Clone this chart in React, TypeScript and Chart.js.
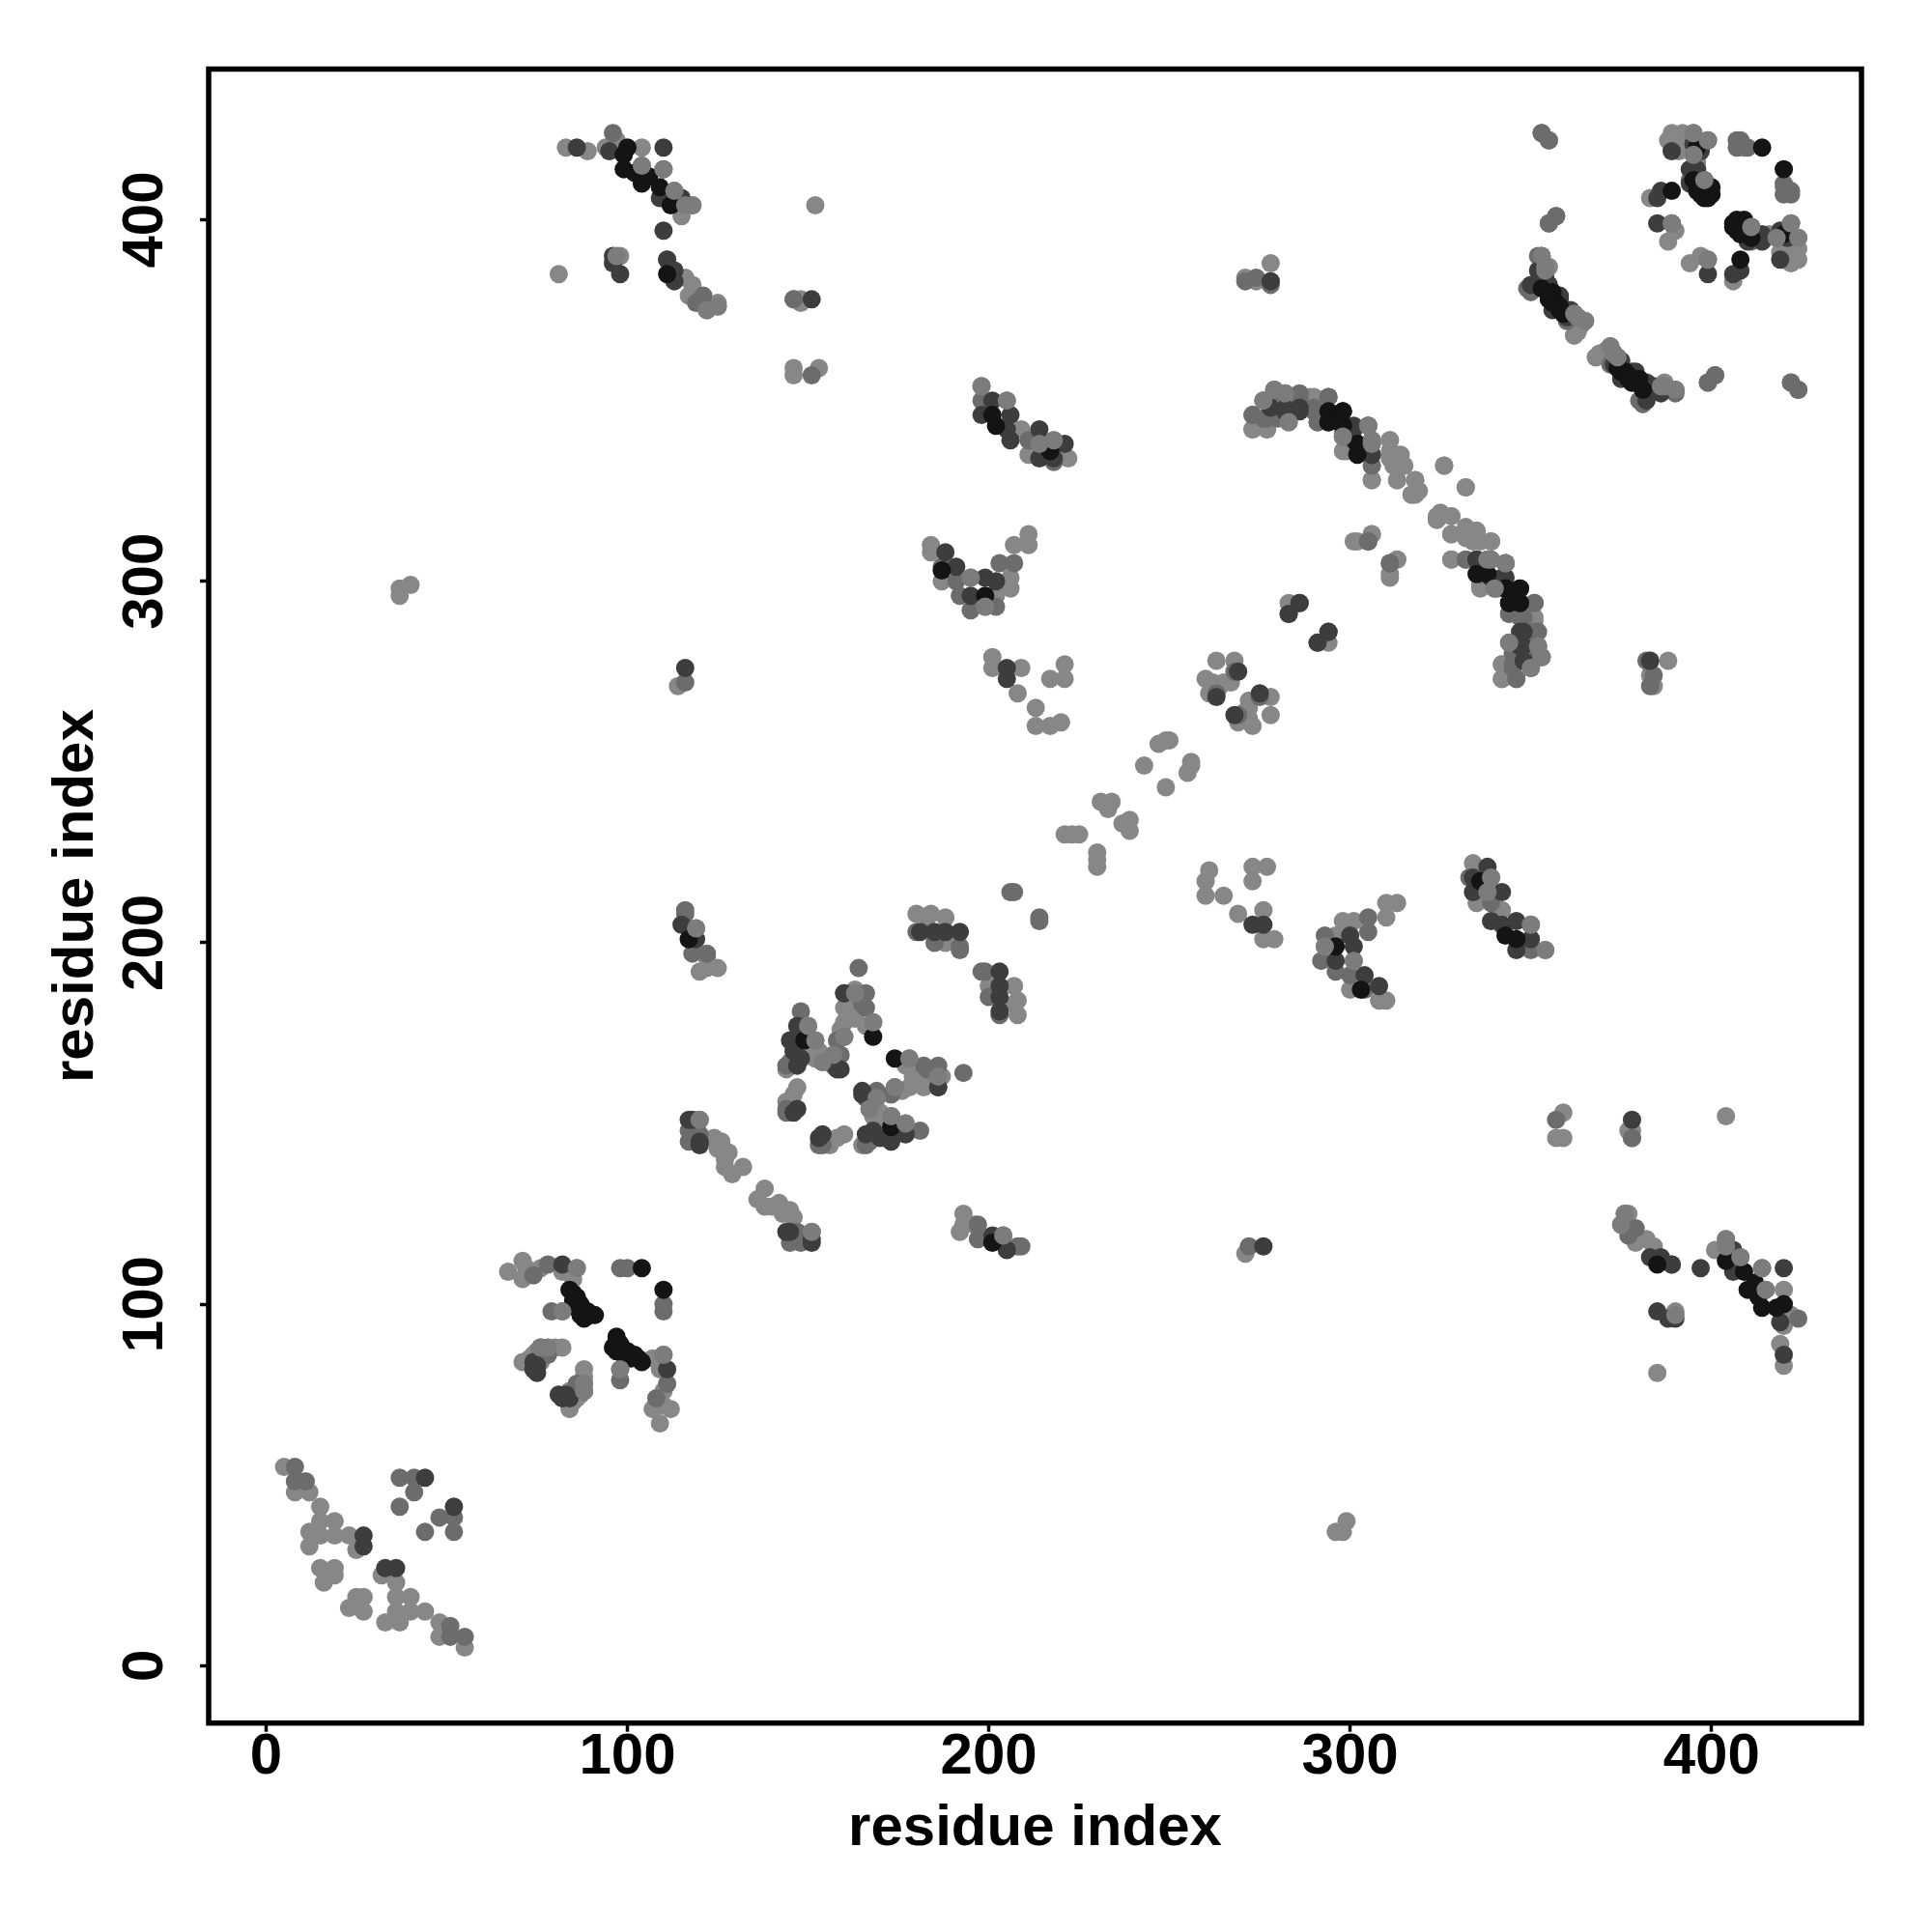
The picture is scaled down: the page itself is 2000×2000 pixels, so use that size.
import React, { useEffect, useRef } from "react";
import { Chart, registerables } from "chart.js";

Chart.register(...registerables);

const tickValues = [0, 100, 200, 300, 400];
const axisLabel = "residue index";

// Contacts (i, j) with i < j, grouped by shade. The map is symmetric.
const lightContacts: number[][] = [
  [5,55],[8,48],[12,48],[15,44],[15,40],[19,40],[12,37],[15,36],[19,36],[23,36],[12,33],[15,27],[19,27],[19,25],[16,23],[25,32],
  [67,109],[71,112],[71,107],[72,108],[76,110],[82,109],[86,110],[82,98],[71,84],[73,85],[76,88],[78,88],[82,88],[76,84],[72,84],[85,107],[74,86],[75,87],[77,86],[80,88],[73,109],[72,110],
  [83,420],[89,419],[94,420],[97,422],[104,420],[104,415],[110,414],[113,408],[116,404],[118,404],[115,401],[98,390],[116,384],[118,382],[117,379],[122,375],[125,376],[125,377],
  [81,385],[152,404],[146,378],[148,378],[148,377],[146,359],[146,357],[153,359],[37,298],[40,299],[37,296],[114,271],
  [184,310],[184,308],[187,300],[195,301],[199,293],[202,296],[206,298],[206,301],[207,310],[211,313],[211,310],
  [198,354],[205,350],[209,342],[211,335],[214,338],[218,339],[222,334],
  [201,279],[201,276],[209,276],[208,269],[213,265],[213,260],[217,260],[220,261],[217,273],[221,277],[221,273],
  [260,273],[263,278],[262,272],[264,271],[261,269],[268,278],[267,272],[265,272],[263,271],
  [221,230],[225,230],[223,230],[231,239],[234,239],[233,237],[243,249],[250,256],[247,255],[249,256],
  [188,207],[184,208],[180,208],[188,200],[183,207],
  [160,178],[168,178],[166,177],[150,177],[152,173],[153,170],[150,169],[154,167],[157,169],[147,160],[144,156],[144,165],[163,187],[160,182],[162,182],[148,170],[152,168],[155,168],[161,180],[159,176],[163,179],[146,158],
  [120,151],[124,146],[126,145],[128,142],[127,140],[132,138],[129,136],[127,138],[125,143],
  [125,193],[120,192],[122,193],[122,196],
  [273,342],[277,342],[276,350],[282,352],[290,351],[283,344],[291,344],[298,340],[299,336],[305,343],[306,338],[306,328],
  [311,339],[311,336],[312,332],[314,335],[315,332],[313,328],[318,328],[319,325],[317,324],[326,332],[332,326],
  [324,318],[328,318],[324,317],[328,313],[333,314],[335,313],[339,311],[334,311],[328,306],[332,306],[339,306],[343,305],[336,298],[341,298],
  [351,289],[352,282],[342,277],[350,276],[342,273],[283,294],
  [271,384],[278,388],[274,383],[301,311],[306,313],[313,306],[311,302],
  [355,422],[355,399],[355,387],[365,372],[362,368],[368,362],[371,364],[386,354],[363,371],[369,363],
  [389,424],[392,424],[395,424],[389,420],[391,419],[396,418],[420,409],[396,416],[390,397],[388,394],[383,406],[395,423],[388,422],[390,423],[389,422],[390,421],[392,422],[389,421],
];

const midContacts: number[][] = [
  [8,55],[8,51],[11,51],[37,52],[41,52],[41,48],[37,44],
  [78,111],[98,110],[100,110],[79,98],[88,76],[74,108],[86,78],
  [96,424],[119,377],[121,379],[111,389],
  [146,378],[151,357],[116,272],
  [198,350],[211,339],[218,333],
  [187,304],[191,300],[192,296],[195,292],[202,293],[203,305],[207,305],
  [207,214],[206,214],[268,275],[269,263],
  [180,203],[185,200],[192,199],[192,198],
  [164,193],[160,186],[166,186],[166,182],[148,181],[160,174],[158,173],[144,166],[144,153],[159,169],[165,183],[145,167],[144,154],[157,166],
  [117,148],[120,147],[117,145],
  [116,209],[116,208],[119,204],[122,197],[118,197],
  [273,346],[276,345],[279,352],[286,352],[280,345],[290,348],[294,351],[302,336],[306,332],
  [344,291],[347,290],[351,286],[353,279],[345,283],[345,277],[346,273],[351,294],[305,311],[311,305],
  [283,291],[278,382],[383,278],[274,384],[271,383],
  [353,424],[357,401],[352,390],[349,381],[362,374],[373,363],[372,360],[390,353],[380,350],[399,355],[401,357],[422,355],[424,353],
  [399,422],[407,422],[410,420],[407,420],[422,408],[389,399],[394,411],
];

const darkContacts: number[][] = [
  [27,36],[27,33],[44,52],[82,111],[75,81],[74,82],[74,84],[75,83],
  [86,420],[95,419],[110,420],[115,406],[109,406],[110,397],[96,390],[96,388],[98,385],[111,389],[113,386],[113,383],[151,378],[116,276],
  [198,346],[201,350],[206,346],[205,342],[206,339],[214,342],[214,334],[218,334],[221,338],
  [188,308],[191,304],[195,296],[199,301],[202,300],
  [205,276],[205,273],[263,268],[269,275],[278,383],
  [181,203],[185,203],[188,203],[192,203],
  [147,177],[147,173],[147,166],[160,186],[159,165],[146,153],[147,154],[145,173],[146,170],[148,168],[158,165],
  [117,151],[120,145],[144,120],[151,118],
  [115,205],[119,201],
  [278,348],[282,348],[286,348],[301,343],[301,339],[306,335],[335,306],[342,301],[347,294],[347,286],[347,282],
  [354,382],[358,378],[356,375],[375,361],[379,358],[382,355],[386,352],[382,350],[354,384],[359,375],[373,360],[380,355],
  [286,294],[283,291],[286,294],
  [396,419],[396,414],[386,408],[385,406],[385,399],[389,419],[395,421],[397,419],[394,410],[396,412],[394,414],
];

const blackContacts: number[][] = [
  [85,103],[85,101],[86,99],[89,98],[91,97],[88,96],[104,110],[84,104],[86,102],[87,100],[90,97],[87,97],
  [100,420],[99,414],[102,413],[104,410],[106,412],[109,409],[112,404],[99,418],[111,385],
  [117,201],[168,174],[149,173],
  [201,346],[202,343],[217,336],[187,303],[199,296],
  [294,347],[298,347],[294,344],[298,343],[338,302],[335,302],[343,298],[347,298],[344,294],
  [356,380],[358,375],[353,381],[375,358],[378,355],[355,378],[357,377],[374,359],[376,358],[377,356],
  [414,420],[398,411],[400,409],[400,407],[398,406],[396,408],[389,408],[399,406],[396,420],[395,411],[397,410],[398,409],[397,407],[397,409],
];

// Lighter dots that were plotted on top of the darker ones.
const overContacts: number[][] = [
  [86,110],[82,98],[97,390],[104,415],[110,414],[113,408],[116,404],[118,404],[122,375],[125,376],[76,88],[78,88],
  [150,177],[152,173],[154,167],[157,169],[160,174],[168,178],[163,186],
  [120,151],[119,204],[283,344],[298,340],[305,343],[306,338],
  [198,354],[205,350],[214,338],[218,339],[195,301],[199,293],
  [339,306],[343,305],[352,282],[353,279],[350,276],
  [354,387],[362,374],[365,372],[373,363],[386,354],[390,353],
  [395,424],[399,422],[389,399],[398,411],[395,418],
];

const shades = ["#878787", "#6c6c6c", "#3d3d3d", "#141414", "#7c7c7c"];
const groups = [lightContacts, midContacts, darkContacts, blackContacts, overContacts];

const toPoints = (pairs: number[][]) =>
  pairs.flatMap(([i, j]) => [
    { x: i, y: j },
    { x: j, y: i },
  ]);

const frame = {
  id: "frame",
  afterDraw(chart: Chart) {
    const { ctx, chartArea: a } = chart;
    ctx.save();
    ctx.strokeStyle = "#000";
    ctx.lineWidth = 5.5;
    ctx.strokeRect(a.left, a.top, a.right - a.left, a.bottom - a.top);
    ctx.restore();
  },
};

export default function App() {
  const ref = useRef<HTMLCanvasElement>(null);
  useEffect(() => {
    const font = { family: "'Liberation Sans', Arial, sans-serif", size: 60, weight: "bold" as const, lineHeight: 1.2 };
    const setTicks = (s: any) => {
      s.ticks = tickValues.map((value) => ({ value }));
    };
    const grid = { drawOnChartArea: false, drawTicks: true, tickLength: 9, tickWidth: 3.5, tickColor: "#000" };
    const chart = new Chart(ref.current!, {
      type: "scatter",
      data: {
        datasets: groups.map((g, k) => ({
          data: toPoints(g),
          backgroundColor: shades[k],
          borderWidth: 0,
          pointRadius: 9.5,
          order: groups.length - k,
        })),
      },
      options: {
        animation: false,
        responsive: false,
        devicePixelRatio: 1,
        layout: { padding: { top: 71.5, right: 73, left: 0, bottom: 0 } },
        plugins: { legend: { display: false }, tooltip: { enabled: false } },
        scales: {
          x: {
            type: "linear",
            min: -15.87,
            max: 441.5,
            afterBuildTicks: setTicks,
            afterFit: (s: any) => {
              s.height = 216.3;
            },
            border: { display: false },
            grid,
            ticks: { font, color: "#000", padding: -9.3, maxRotation: 0, autoSkip: false },
            title: { display: true, text: axisLabel, font, color: "#000", padding: { top: 0, bottom: 71 } },
          },
          y: {
            type: "linear",
            min: -15.87,
            max: 441.7,
            afterBuildTicks: setTicks,
            afterFit: (s: any) => {
              s.width = 216;
            },
            border: { display: false },
            grid,
            ticks: { font, color: "#000", padding: 5.7, minRotation: 90, maxRotation: 90, crossAlign: "center", autoSkip: false },
            title: { display: true, text: axisLabel, font, color: "#000", padding: { top: 43, bottom: 0 } },
          },
        },
      },
      plugins: [frame],
    });
    return () => chart.destroy();
  }, []);
  return (
    <div style={{ position: "absolute", left: 0, top: 0, width: 2000, height: 2000 }}>
      <canvas ref={ref} width={2000} height={2000} style={{ display: "block" }} />
    </div>
  );
}
